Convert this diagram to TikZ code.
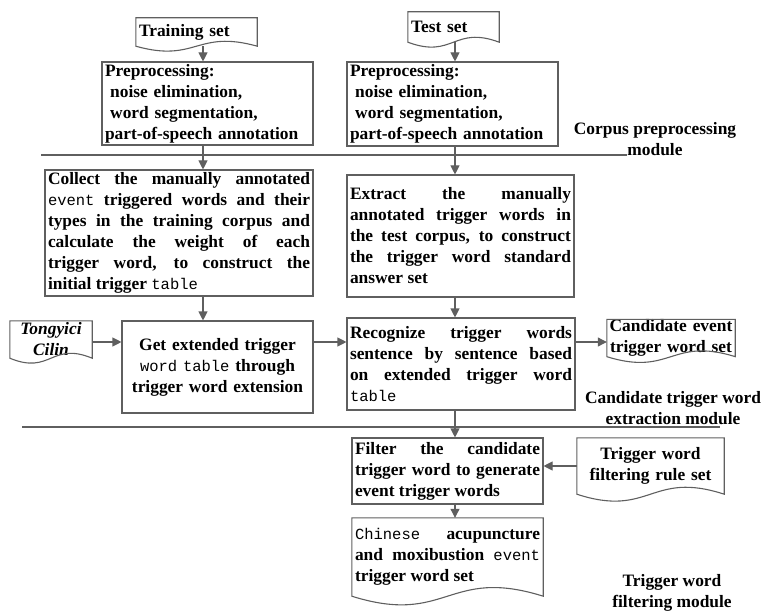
\documentclass[tikz,border=0pt]{standalone}
\usepackage{fontspec}
\setmainfont{Liberation Serif}
\newfontfamily\monofont{Liberation Mono}
\usetikzlibrary{calc, positioning}
\usetikzlibrary{arrows.meta}

\definecolor{linegray}{RGB}{95,95,95}
\newcommand{\bodyfont}{\fontsize{17.4}{21}\selectfont\bfseries}
\newcommand{\mono}[1]{{\monofont\mdseries\fontsize{15.5}{21}\selectfont #1}}
\hyphenpenalty=10000
\exhyphenpenalty=10000

\tikzset{
  procbox/.style={draw=linegray, line width=1.1pt, inner xsep=3pt, inner ysep=0pt, font=\bodyfont},
  doctext/.style={inner xsep=3pt, inner ysep=0pt, font=\bodyfont},
  doc/.style={draw=linegray, line width=1.1pt},
  flow/.style={draw=linegray, line width=1.1pt, -{Triangle[length=9pt,width=9pt]}},
  sepline/.style={draw=linegray, line width=1.1pt},
  modlabel/.style={font=\bodyfont, align=center, inner sep=0pt}
}

% document outline with a wavy bottom round a text node
\newcommand{\docoutline}[2]{%
  \draw[doc] (#1.north west) -- (#1.north east) -- (#1.south east)
    .. controls ($(#1.south)+(0,-#2)$) and ($(#1.south)+(0,#2)$) .. (#1.south west) -- cycle;}

\begin{document}
\begin{tikzpicture}[x=1pt, y=-1pt]
\useasboundingbox (0,0) rectangle (764,615);

\coordinate (colL) at (203,0);
\coordinate (colR) at (455,0);
\coordinate (rowA) at (0,342);

% Corpus preprocessing module
\node[doctext, minimum width=121pt, minimum height=28pt, text width=115pt, align=left] (train) at (196.5,32) {Training set};
\node[doctext, minimum width=91pt, minimum height=30pt, text width=85pt, align=left] (test) at (453.5,27) {Test set};
\docoutline{train}{17}
\docoutline{test}{17}

\node[procbox, minimum width=211pt, minimum height=83pt, text width=205pt, align=left] (pre1) at (207.5,103.5)
  {Preprocessing:\\\hspace*{.3em}noise elimination,\\\hspace*{.3em}word segmentation,\\part-of-speech annotation};
\node[procbox, minimum width=211pt, minimum height=84pt, text width=205pt, align=left] (pre2) at (452.5,104)
  {Preprocessing:\\\hspace*{.3em}noise elimination,\\\hspace*{.3em}word segmentation,\\part-of-speech annotation};

\node[modlabel] (lblcorpus) at (655,139) {Corpus preprocessing\\module};

% Candidate trigger word extraction module
\node[procbox, minimum width=268pt, minimum height=126pt, text width=262pt, align=justify] (collect) at (179,233)
  {Collect the manually annotated\linebreak \mono{event} triggered words and their\linebreak types in the training corpus and\linebreak calculate the weight of each\linebreak trigger word, to construct the\linebreak initial trigger \mono{table}};
\node[procbox, minimum width=227pt, minimum height=122pt, text width=221pt, align=justify] (extract) at (460.5,236)
  {Extract the manually\linebreak annotated trigger words in\linebreak the test corpus, to construct\linebreak the trigger word standard\linebreak answer set};

\node[doctext, minimum width=82pt, minimum height=37pt, text width=76pt, align=center] (tong) at (51,339.5)
  {\textit{Tongyici}\\\textit{Cilin}};
\docoutline{tong}{17}

\node[procbox, minimum width=191pt, minimum height=92pt, text width=185pt, align=center] (getext) at (217.5,367)
  {Get extended trigger\\\mono{word table} through\\trigger word extension};
\node[procbox, minimum width=228pt, minimum height=92pt, text width=222pt, align=justify] (recog) at (461,364)
  {Recognize trigger words\linebreak sentence by sentence based\linebreak on extended trigger word\linebreak \mono{table}};

\node[doctext, inner xsep=0pt, minimum width=128pt, minimum height=34pt, text width=128pt, align=center] (cand) at (671,338)
  {Candidate~event\\trigger~word~set};
\docoutline{cand}{20}

\node[modlabel] (lblcand) at (673,408) {Candidate trigger word\\extraction module};

% Trigger word filtering module
\node[procbox, minimum width=191pt, minimum height=66pt, text width=185pt, align=justify] (filter) at (447.5,471)
  {Filter the candidate\linebreak trigger word to generate\linebreak event trigger words};
\node[doctext, minimum width=147pt, minimum height=56pt, text width=141pt, align=center] (rules) at (650.5,466)
  {Trigger word\\filtering rule set};
\docoutline{rules}{24}
\node[doctext, minimum width=191pt, minimum height=78pt, text width=185pt, align=justify] (chinese) at (447.5,557)
  {\mono{Chinese} acupuncture\linebreak and moxibustion \mono{event}\linebreak trigger word set};
\docoutline{chinese}{30}

\node[modlabel] (lblfilter) at (672,593) {Trigger word\\filtering module};

% Module separators
\draw[sepline] (41,155) -- (627,155);
\draw[sepline] (22,427) -- (720,427);

% Flow arrows
\draw[flow] (train.south -| colL) -- (pre1.north -| colL);
\draw[flow] (pre1.south -| colL) -- (collect.north -| colL);
\draw[flow] (collect.south -| colL) -- (getext.north -| colL);
\draw[flow] (tong.east |- rowA) -- (getext.west |- rowA);
\draw[flow] (getext.east |- rowA) -- (recog.west |- rowA);
\draw[flow] (recog.east |- rowA) -- (cand.west |- rowA);
\draw[flow] (test.south -| colR) -- (pre2.north -| colR);
\draw[flow] (pre2.south -| colR) -- (extract.north -| colR);
\draw[flow] (extract.south -| colR) -- (recog.north -| colR);
\draw[flow] (recog.south -| colR) -- (filter.north -| colR);
\draw[flow] (filter.south -| colR) -- (chinese.north -| colR);
\draw[flow] (rules.west) -- (rules.west -| filter.east);
\end{tikzpicture}
\end{document}
